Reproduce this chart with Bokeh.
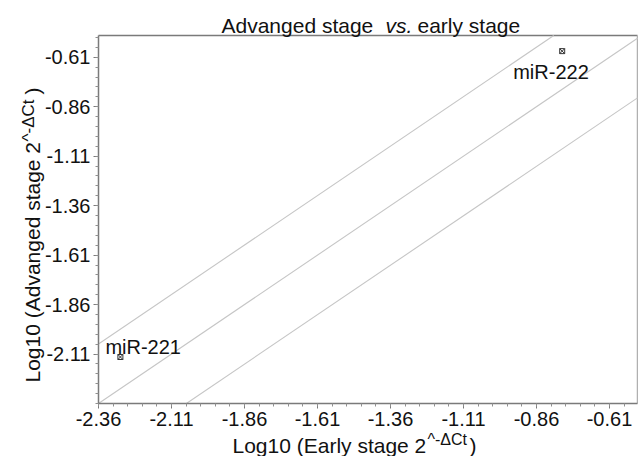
import math
from bokeh.plotting import figure
from bokeh.models import Label, FixedTicker, Range1d, ColumnDataSource
from bokeh.core.properties import value
from bokeh.embed import file_html
from bokeh.resources import INLINE

# ---- data ----
mirnas = ["miR-221", "miR-222"]
early_log10 = [-2.285, -0.772]
advanced_log10 = [-2.125, -0.579]
fold_offsets = [0.301, 0.0, -0.301]   # 2-fold lines and identity line
x_tick_values = [-2.36, -2.11, -1.86, -1.61, -1.36, -1.11, -0.86, -0.61]
y_tick_values = [-2.11, -1.86, -1.61, -1.36, -1.11, -0.86, -0.61]
tick_labels = {-2.36: "-2.36", -2.11: "-2.11", -1.86: "-1.86", -1.61: "-1.61",
               -1.36: "-1.36", -1.11: "-1.11", -0.86: "-0.86", -0.61: "-0.61"}

# ---- layout (pixels) ----
W, H = 638, 456
PX_LEFT, PX_TOP, PX_BOTTOM, PX_RIGHT = 98, 35, 403, 637   # data box edges
X0, Y0, Y1 = -2.36, -2.36, -0.50
KX = 292.0                                  # px per unit on x
KY = (PX_BOTTOM - PX_TOP) / (Y1 - Y0)       # px per unit on y
XR = X0 + (PX_RIGHT - PX_LEFT) / KX
FONT = "Liberation Sans"

def dx(px):
    return X0 + (px - PX_LEFT) / KX

def dy(py):
    return Y0 + (PX_BOTTOM - py) / KY

minor_x = [round(X0 + 0.05 * i, 2) for i in range(0, 40) if X0 + 0.05 * i <= XR]
minor_y = [round(Y0 + 0.05 * i, 2) for i in range(0, 38) if Y0 + 0.05 * i <= Y1]

p = figure(width=W, height=H, x_range=Range1d(dx(0), dx(W)), y_range=Range1d(dy(H), dy(0)),
           output_backend="svg", toolbar_location=None, title=None,
           min_border_left=0, min_border_right=0, min_border_top=0, min_border_bottom=0)
p.background_fill_color = "white"
p.border_fill_color = "white"
p.outline_line_color = None
p.xgrid.visible = False
p.ygrid.visible = False

xa, ya = p.xaxis[0], p.yaxis[0]
xa.fixed_location = Y0
ya.fixed_location = X0
xa.bounds = (X0, XR)
ya.bounds = (Y0, Y1)
xa.ticker = FixedTicker(ticks=x_tick_values, minor_ticks=minor_x)
ya.ticker = FixedTicker(ticks=y_tick_values, minor_ticks=minor_y)
for ax in (xa, ya):
    ax.major_label_overrides = tick_labels
    ax.major_label_text_font = FONT
    ax.major_label_text_font_size = "20px"
    ax.major_label_text_color = "#111111"
    ax.axis_line_color = "#7a7a7a"
    ax.axis_line_width = 1.5
    ax.major_tick_line_color = "#7a7a7a"
    ax.minor_tick_line_color = "#909090"
    ax.major_tick_out = 5
    ax.major_tick_in = 0
    ax.minor_tick_out = 3
    ax.minor_tick_in = 0
    ax.major_label_standoff = 3

# box: top and right edges
p.line([X0, XR], [Y1, Y1], line_color="#7a7a7a", line_width=1.5)
p.line([XR, XR], [Y1, Y0], line_color="#b0b0b0", line_width=1.5)

# fold-change reference lines, clipped to the box
sx0, sy0, sx1, sy1 = [], [], [], []
for off in fold_offsets:
    a = max(X0, Y0 - off)
    b = min(XR, Y1 - off)
    sx0.append(a); sy0.append(a + off); sx1.append(b); sy1.append(b + off)
p.segment(sx0, sy0, sx1, sy1, line_color="#c6c6c6", line_width=1.1)

src = ColumnDataSource(dict(x=early_log10, y=advanced_log10, name=mirnas,
                            dx=[-15, -49], dy=[-10, 21]))
p.scatter("x", "y", source=src, marker="square_x", size=5, line_color="#333333",
          fill_color=None, line_width=1)
p.text("x", "y", text="name", source=src, x_offset="dx", y_offset="dy",
       text_font=value(FONT), text_font_size="20px", text_color="#111111",
       text_align="left", text_baseline="alphabetic")

def lab(text, px, py, size="21px", angle=0.0, style="normal"):
    p.add_layout(Label(x=dx(px), y=dy(py), text=text, text_font=FONT,
                       text_font_size=size, text_font_style=style, angle=angle,
                       text_align="left", text_baseline="alphabetic",
                       text_color="#111111"))

# title
lab("Advanged stage", 221, 25, "21px")
lab("vs.", 385, 25, "21px", style="italic")
lab("early stage", 417, 25, "21px")

# x-axis label
lab("Log10 (Early stage 2", 232, 445)
lab("^-ΔCt", 427, 439, "16px")
lab(")", 469, 445)

# y-axis label (rotated)
lab("Log10 (Advanged stage 2", 32, 382, angle=math.pi / 2)
lab("^-ΔCt", 28, 141, "17px", angle=math.pi / 2)
lab(")", 32, 94, angle=math.pi / 2)

open("out.html", "w").write(file_html(p, INLINE))
